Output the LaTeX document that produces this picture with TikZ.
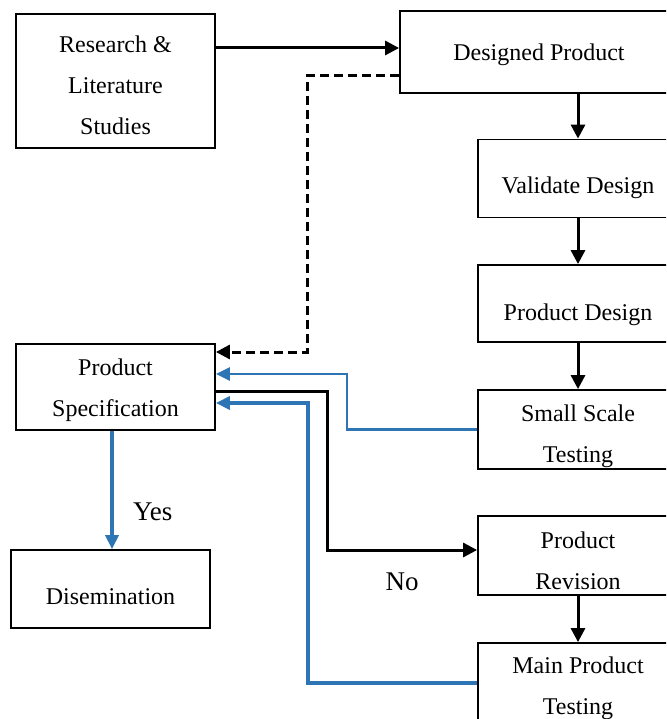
\documentclass[tikz,border=0pt]{standalone}
\usepackage{fontspec}
\setmainfont{Liberation Serif}
\usetikzlibrary{arrows.meta}
\definecolor{fbblue}{RGB}{46,117,182}

\begin{document}
\begin{tikzpicture}[x=1pt,y=-1pt,
  box/.style={draw,line width=1.8pt,inner sep=0pt,align=center,
    font=\rmfamily\fontsize{24}{41}\selectfont},
  tdim/.style 2 args={text height=#1pt,text depth=#2pt},
  flow/.style={line width=3pt,-{Triangle[length=14pt,width=14pt]}},
  back/.style={draw=fbblue,line width=2.5pt,-{Triangle[length=14pt,width=13pt]}},
  lbl/.style={inner sep=0pt,font=\rmfamily\fontsize{27}{27}\selectfont}]
\useasboundingbox (0,0) rectangle (666,719);
\clip (0,0) rectangle (666,719);
% left column
\node[box,tdim={107}{0},minimum width=199pt,minimum height=134pt] (research) at (115.5,81) {Research \&\\Literature\\Studies};
\node[box,tdim={58}{0},minimum width=199pt,minimum height=86pt] (spec) at (115.5,387) {Product\\Specification};
\node[box,tdim={31.4}{0},minimum width=199pt,minimum height=78pt] (dissem) at (110.5,589) {Disemination};
% right column
\node[box,tdim={17.4}{0},minimum width=278pt,minimum height=82pt] (designed) at (539,52) {Designed Product};
\node[box,tdim={31}{0},minimum width=200pt,minimum height=78pt] (validate) at (578,178.5) {Validate Design};
\node[box,tdim={34}{0},minimum width=200pt,minimum height=77pt] (pdesign) at (578,303.5) {Product Design};
\node[box,tdim={66.4}{0},minimum width=200pt,minimum height=79pt] (smalltest) at (578,429.5) {Small Scale\\Testing};
\node[box,tdim={67}{0},minimum width=200pt,minimum height=79pt] (revision) at (578,555.5) {Product\\Revision};
\node[box,tdim={64.4}{0},minimum width=200pt,minimum height=79pt] (maintest) at (578,682.5) {Main Product\\Testing};
% labels
\node[lbl,anchor=base west] (yeslbl) at (133,520) {Yes};
\node[lbl,anchor=base] (nolbl) at (402,590) {No};
% turning points
\coordinate (dashturn) at (307,352);
\coordinate (smallturn) at (347,374);
\coordinate (noturn) at (327,550);
\coordinate (mainturn) at (308,403);
% forward flow
\draw[flow] (research.east |- 0,48) -- ([yshift=4pt]designed.west);
\draw[flow] (validate.north |- designed.south) -- (validate.north);
\draw[flow] (pdesign.north |- validate.south) -- (pdesign.north);
\draw[flow] (smalltest.north |- pdesign.south) -- (smalltest.north);
\draw[flow] (maintest.north |- revision.south) -- (maintest.north);
\draw[flow,dash pattern=on 9pt off 5pt] ([yshift=-24pt]designed.west) -| (dashturn) -- (dashturn -| spec.east);
\draw[flow] ([yshift=-4pt]spec.east) -| (noturn) -- (noturn -| revision.west);
% feedback
\draw[back] (smalltest.west) -| (smallturn) -- (smallturn -| spec.east);
\draw[back,line width=4pt] (maintest.west) -| (mainturn) -- (mainturn -| spec.east);
\draw[back,line width=4pt] ([xshift=1.5pt]dissem.north |- spec.south) -- ([xshift=1.5pt]dissem.north);
\end{tikzpicture}
\end{document}
